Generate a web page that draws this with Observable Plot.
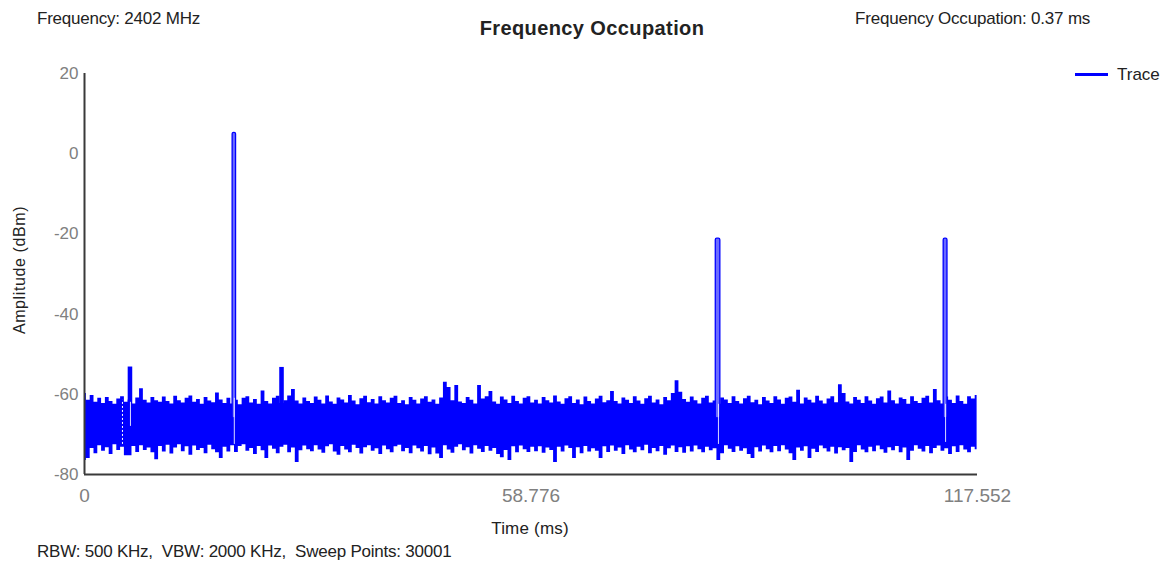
<!DOCTYPE html>
<html>
<head>
<meta charset="utf-8">
<script src="https://cdn.jsdelivr.net/npm/d3@7"></script>
<script src="https://cdn.jsdelivr.net/npm/@observablehq/plot@0.6"></script>
<style>
  html, body { margin: 0; padding: 0; background: #fff; }
  #wrap { position: relative; width: 1171px; height: 565px; font-family: "Liberation Sans", Arial, sans-serif; color: #222; overflow: hidden; }
  .t { position: absolute; white-space: nowrap; line-height: 1; }
  #chart { position: absolute; left: 0; top: 0; }
</style>
</head>
<body>
<div id="wrap">
  <div id="chart"></div>
  <div class="t" id="freq" style="left:37px; top:10px; font-size:17px; letter-spacing:-0.22px;">Frequency: 2402 MHz</div>
  <div class="t" id="title" style="left:592px; top:18px; transform:translateX(-50%); font-size:20px; font-weight:bold; letter-spacing:0.4px;">Frequency Occupation</div>
  <div class="t" id="occ" style="left:855px; top:10px; font-size:17px; letter-spacing:-0.2px;">Frequency Occupation: 0.37 ms</div>
  <div class="t" id="legend" style="left:1075px; top:66px; font-size:17px; display:flex; align-items:center;">
    <span style="display:inline-block; width:33px; height:3px; background:#0000ff; margin-right:9px;"></span><span>Trace</span>
  </div>
  <div class="t" id="ylab" style="left:20px; top:270px; transform:translate(-50%,-50%) rotate(-90deg); font-size:16px; letter-spacing:0.6px;">Amplitude (dBm)</div>
  <div class="t" id="xlab" style="left:530px; top:520px; transform:translateX(-50%); font-size:17px; letter-spacing:0.2px;">Time (ms)</div>
  <div class="t" id="cap" style="left:37px; top:543px; font-size:17px; letter-spacing:-0.22px;">RBW: 500 KHz,&nbsp; VBW: 2000 KHz,&nbsp; Sweep Points: 30001</div>
</div>
<script>
// ---- data ----
const timeStart = 0;          // ms
const timeEnd = 117.552;      // ms
const timeStep = 0.5;         // ms between envelope samples

// noise upper envelope (dBm), one value every 0.5 ms from 0 ms
const noiseHigh = [
  -59.8,-61.5,-60.3,-62,-61,-62.3,-60.8,-61.8,-62.5,-61.2,-60.6,-62,-61.4,-62.4,-60.9,-58.6,-61.5,-62.2,-60.8,-61.6,
  -62,-60.7,-61.8,-62.4,-60.5,-61.6,-62.2,-61,-60.4,-62,-61.3,-62.5,-60.8,-61.7,-62.1,-59.7,-61.4,-62.3,-61,-62.4,
  -61.5,-62.6,-61,-60.6,-62.2,-61.3,-62.5,-59.2,-61.8,-62.4,-61,-60.5,-62.3,-61.6,-60.4,-58.8,-61.7,-62.4,-60.9,-61.8,
  -62.3,-60.7,-61.5,-62.4,-60.4,-61.9,-62.5,-60.9,-61.4,-62.2,-60.3,-61.7,-62.6,-61.1,-60.5,-62.1,-61.3,-62.4,-60.6,-61.6,
  -62.2,-61,-60.5,-62.3,-61.6,-62.6,-60.8,-61.5,-62.4,-61.2,-60.6,-62,-61.4,-62.5,-60.9,-57,-58.3,-61.6,-57.8,-61.9,
  -62.3,-60.8,-61.5,-62.4,-57.8,-61.2,-60.6,-59.3,-61.9,-62.5,-60.7,-61.4,-62.3,-60.5,-61.8,-62.4,-61,-60.6,-62.2,-61.5,
  -62.4,-60.8,-61.6,-62.2,-60.4,-61.9,-62.5,-61.1,-60.6,-62.3,-61.4,-62.6,-60.7,-61.8,-62.4,-61.2,-60.5,-62.1,-61.6,-59.3,
  -61.8,-62.4,-60.9,-61.5,-62.3,-60.6,-61.7,-62.5,-61.1,-60.5,-62.2,-61.4,-62.6,-60.8,-61.6,-59.8,-56.6,-59.5,-61.3,-62,
  -60.7,-61.6,-62.4,-61,-60.5,-62.2,-61.7,-62.5,-60.9,-61.4,-62.3,-60.6,-61.8,-62.4,-61.1,-60.5,-62.1,-61.5,-62.6,-60.8,
  -61.7,-62.3,-60.6,-61.4,-62.5,-61,-60.7,-62,-59,-62.4,-60.9,-61.5,-62.2,-60.5,-61.7,-62.4,-61.2,-60.6,-62.1,-57.6,
  -59.8,-61.9,-62.4,-60.8,-61.5,-62.3,-60.6,-61.7,-62.5,-61.1,-60.7,-62.2,-59.2,-61.6,-62.4,-60.9,-61.3,-62.5,-60.6,-61.8,
  -62.3,-61,-60.5,-62.2,-58.8,-61.6,-62.4,-60.7,-61.5,-62.3,-60.4,-61.8,-62.5,-60.6,-61.2,-60.3
];

// noise lower envelope (dBm), same sampling
const noiseLow = [
  -76.5,-76,-73.5,-74.8,-72.8,-74.2,-73.3,-75,-72.6,-74,-73.2,-75.3,-75.3,-73,-74.5,-72.8,-74,-73.4,-74.6,-76.3,
  -73,-74.4,-72.7,-74.9,-73.4,-72.6,-74.3,-73.1,-75.2,-72.9,-74,-73.5,-74.8,-72.7,-73.8,-74.6,-76,-73.2,-74.4,-72.8,
  -74.5,-73,-72.6,-74.2,-73.5,-75,-73,-74.1,-76,-72.9,-73.7,-74.8,-73.2,-72.7,-74.6,-73.4,-77,-74.1,-72.9,-73.8,
  -74.3,-72.8,-73.9,-74.7,-73.1,-72.6,-74.4,-75.2,-73,-73.9,-74.6,-72.7,-73.5,-74.9,-73.3,-72.8,-74.2,-73.6,-75,-72.9,
  -73.8,-74.6,-73.1,-72.7,-74.3,-73.5,-74.8,-72.9,-73.6,-74.4,-73,-75.1,-73.4,-74.9,-76,-72.8,-73.9,-74.7,-73.2,-72.6,
  -74.1,-73.3,-74.9,-72.8,-73.7,-74.5,-73,-74.2,-73.5,-75,-75.8,-74,-76.5,-73.1,-74.6,-72.9,-73.8,-74.5,-73.2,-74.3,
  -73.1,-74.7,-73.4,-74,-77,-73.2,-74.4,-72.9,-73.5,-76,-73.3,-74.8,-73,-74.4,-73.6,-74.2,-76,-73.1,-74.5,-72.9,
  -74.2,-73.4,-75,-72.8,-73.9,-74.6,-73.2,-74.1,-72.7,-74.8,-73.5,-74.3,-73,-75.2,-73.6,-72.9,-74.5,-73.3,-74.7,-73.1,
  -74.4,-72.9,-73.8,-74.6,-73.2,-74.1,-73.6,-76.5,-74.8,-72.8,-73.7,-74.5,-73.1,-74.2,-73.6,-75,-76,-73.3,-74.4,-72.9,
  -73.8,-74.6,-73,-74.3,-72.8,-73.9,-74.8,-76.5,-73.4,-74.2,-73.1,-76,-73.7,-74.5,-72.9,-73.6,-74.4,-73.2,-74.9,-73.3,
  -74.1,-73.5,-77,-74.5,-72.8,-73.9,-74.6,-73.2,-74.3,-72.9,-73.8,-74.7,-73.3,-74.1,-73,-74.6,-73.4,-76.5,-74.2,-72.8,
  -73.7,-74.4,-73,-74.8,-73.5,-72.9,-74.2,-73.6,-75,-73.1,-74.5,-72.8,-73.9,-74.6,-73.2,-73.8
];

// signal bursts
const burstStart = [5.75, 19.5, 25.7, 83.1, 113.1];   // ms
const burstEnd   = [6.35, 19.95, 26.3, 83.7, 113.6];  // ms
const burstPeak  = [-53.2, 5.2, -53.3, -21.2, -21.2]; // dBm
const burstBase  = -66;                               // dBm

// thin white gaps visible through the noise band
const gapTime   = [5.0, 6.05, 19.72, 83.45, 113.35];  // ms
const gapTop    = [-61.5, -62, -61, -62.5, -62.5];    // dBm
const gapBottom = [-72.5, -68, -72.5, -72.5, -72];    // dBm
const gapDashed = [true, false, false, false, false];

const yTicks = [20, 0, -20, -40, -60, -80];
const xTicks = [0, 58.776, 117.552];
const yDomain = [-80, 20];

// ---- build tables ----
const noise = noiseHigh.map((h, i) => ({t: Math.min(timeStart + i * timeStep, timeEnd), hi: h, lo: noiseLow[i]}));
const bursts = burstStart.map((s, i) => ({x1: s, x2: burstEnd[i], peak: burstPeak[i]}));
const gaps = gapTime.map((t, i) => ({t, top: gapTop[i], bottom: gapBottom[i], dashed: gapDashed[i]}));

const blue = "#0000ff";

const chart = Plot.plot({
  width: 1171,
  height: 565,
  marginLeft: 84,
  marginRight: 194,
  marginTop: 73,
  marginBottom: 91,
  style: {fontFamily: "'Liberation Sans', Arial, sans-serif", background: "transparent"},
  x: {domain: [timeStart, timeEnd]},
  y: {domain: yDomain},
  marks: [
    Plot.areaY(noise, {x: "t", y1: "lo", y2: "hi", fill: blue, curve: "step"}),
    Plot.rect(bursts.filter(d => d.peak < -40), {x1: "x1", x2: "x2", y1: burstBase, y2: "peak", fill: blue}),
    Plot.rect(bursts.filter(d => d.peak >= -40), {x1: "x1", x2: "x2", y1: burstBase, y2: "peak", fill: "#6b6bff", stroke: blue, strokeWidth: 1.3, rx: 1.5}),
    Plot.ruleX(gaps.filter(d => !d.dashed), {x: "t", y1: "bottom", y2: "top", stroke: "#ffffff", strokeWidth: 1, strokeOpacity: 0.85}),
    Plot.ruleX(gaps.filter(d => d.dashed), {x: "t", y1: "bottom", y2: "top", stroke: "#ffffff", strokeWidth: 1, strokeDasharray: "2,2"}),
    Plot.ruleX([timeStart], {y1: yDomain[0], y2: yDomain[1], stroke: "#3a3a3a", strokeWidth: 2}),
    Plot.ruleY([yDomain[0]], {x1: timeStart, x2: timeEnd, stroke: "#3a3a3a", strokeWidth: 2}),
    Plot.axisY({ticks: yTicks, tickSize: 0, tickPadding: 6, tickFormat: d => String(d), fontSize: 17, color: "#808080", label: null}),
    Plot.axisX({ticks: xTicks, tickSize: 0, tickPadding: 14, tickFormat: d => String(d), fontSize: 19, color: "#808080", label: null})
  ]
});
document.getElementById("chart").appendChild(chart);
</script>
</body>
</html>
